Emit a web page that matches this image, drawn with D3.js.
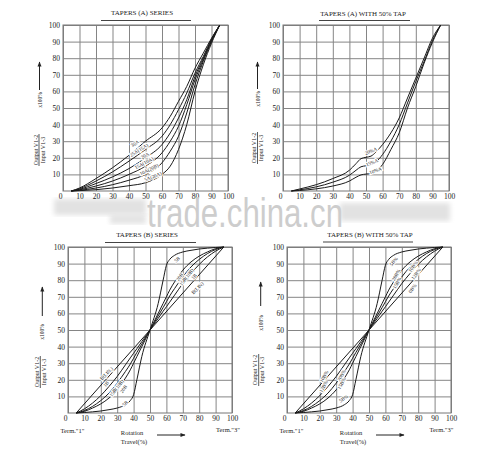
<!DOCTYPE html>
<html>
<head>
<meta charset="utf-8">
<script src="https://cdn.jsdelivr.net/npm/d3@7"></script>
<style>
  body { margin: 0; background: #fff; }
  svg text { font-family: "Liberation Serif", "DejaVu Serif", serif; fill: #222; }
</style>
</head>
<body>
<script>
// axis ticks
const xTicks = [0, 10, 20, 30, 40, 50, 60, 70, 80, 90, 100];
const yTicks = [10, 20, 30, 40, 50, 60, 70, 80, 90, 100];

// Tapers (A) series : rotation travel (%) and output (%)
const aTravel = [5, 10, 20, 30, 40, 50, 60, 65, 70, 75, 80, 85, 90, 95];
const a30 = [0, 1.8, 7.5, 14, 21.5, 30, 38, 45, 54, 63, 74, 83, 92, 100];
const a25 = [0, 1.4, 6, 11.5, 18, 25, 33, 40, 49, 59, 71, 81, 91.5, 100];
const a20 = [0, 1, 4.5, 8.5, 13.5, 20, 28, 35, 44, 55, 69, 80, 91, 100];
const a15 = [0, 0.7, 3, 6, 10, 15, 23, 30, 39, 52, 67, 79, 90.5, 100];
const a10 = [0, 0.4, 1.8, 3.8, 6.5, 10, 17, 24, 33, 47, 64, 78, 90, 100];
const a5  = [0, 0.2, 0.8, 1.8, 3.2, 5, 10, 15, 25, 40, 60, 76, 89, 100];

// Tapers (A) with 50% tap
const tapTravel = [5, 10, 20, 30, 40, 44, 47, 50, 53, 56, 60, 65, 70, 75, 80, 85, 90, 95];
const tap20 = [0, 1.2, 3.8, 7.5, 12.5, 16.5, 19.5, 20.3, 21, 23.5, 28, 35, 44, 56, 68, 80, 92, 100];
const tap15 = [0, 0.7, 2.5, 5.3, 9.5, 12.5, 14.6, 15.2, 15.8, 17.5, 22, 30, 40, 53, 66, 78, 90.5, 100];
const tap10 = [0, 0.3, 1.3, 3, 6, 8.3, 9.7, 10.2, 10.6, 12, 16, 25, 35, 50, 63, 77, 89.5, 100];

// Tapers (B) series
const bTravel = [5, 10, 15, 20, 25, 30, 35, 38, 40, 42, 45, 50, 55, 58, 60, 62, 65, 70, 75, 80, 85, 90, 95];
const b5  = [0, 0.3, 0.7, 1.2, 2, 3, 5, 7.5, 11, 20, 34, 50, 66, 80, 89, 92.5, 95, 97, 98, 98.8, 99.3, 99.7, 100];
const b20 = [0, 1, 3, 5.5, 9, 14, 21, 26, 30, 34, 40, 50, 60, 66, 70, 74, 79, 86, 91, 94.5, 97, 99, 100];
const b15 = [0, 1.5, 4, 7.5, 12, 18, 25, 29.5, 33, 36.5, 41.5, 50, 58.5, 63.5, 67, 70.5, 75, 82, 88, 92.5, 96, 98.5, 100];
const b10 = [0, 2.5, 6, 10.5, 16, 22, 29, 33.2, 36, 38.7, 43, 50, 57, 61.3, 64, 66.8, 71, 78, 84, 89.5, 94, 97.5, 100];
const linTravel = [5, 95];
const linOut = [0, 100];

const svg = d3.select("body").append("svg")
  .attr("width", 483)
  .attr("height", 451);

const defs = svg.append("defs");
defs.append("marker")
  .attr("id", "arr")
  .attr("viewBox", "0 0 10 10")
  .attr("refX", 9).attr("refY", 5)
  .attr("markerWidth", 6).attr("markerHeight", 5)
  .attr("orient", "auto")
  .append("path")
  .attr("d", "M0,1L10,5L0,9Z")
  .attr("fill", "#222");
defs.append("filter").attr("id", "blur")
  .append("feGaussianBlur").attr("stdDeviation", 2.5);

// watermark smudges (drawn first, under the charts)
svg.append("rect").attr("x", 54).attr("y", 199).attr("width", 92).attr("height", 16)
  .attr("fill", "#e2e2e2").attr("filter", "url(#blur)");
svg.append("rect").attr("x", 110).attr("y", 214).attr("width", 36).attr("height", 10)
  .attr("fill", "#e4e4e4").attr("filter", "url(#blur)");
svg.append("rect").attr("x", 340).attr("y", 203).attr("width", 110).attr("height", 18)
  .attr("fill", "#e2e2e2").attr("filter", "url(#blur)");

function zip(xs, ys) { return xs.map((v, i) => [v, ys[i]]); }

function drawPanel(p) {
  const x = d3.scaleLinear().domain([0, 100]).range([p.left, p.right]);
  const y = d3.scaleLinear().domain([0, 100]).range([p.bottom, p.top]);
  const w = p.right - p.left, h = p.bottom - p.top;
  const g = svg.append("g");

  // grid via axes
  const gx = g.append("g")
    .attr("transform", "translate(0," + p.bottom + ")")
    .call(d3.axisBottom(x).tickValues(xTicks).tickSizeInner(-h).tickSizeOuter(0).tickPadding(3));
  const gy = g.append("g")
    .attr("transform", "translate(" + p.left + ",0)")
    .call(d3.axisLeft(y).tickValues(yTicks).tickSizeInner(-w).tickSizeOuter(0).tickPadding(3));
  [gx, gy].forEach(a => {
    a.select(".domain").remove();
    a.selectAll("line").attr("stroke", "#858585").attr("stroke-width", 1);
    a.selectAll("text").style("font-size", "7.5px");
  });
  gx.selectAll(".tick").filter(d => d === 0).select("text").attr("dx", -3);

  g.append("rect")
    .attr("x", p.left).attr("y", p.top).attr("width", w).attr("height", h)
    .attr("fill", "none").attr("stroke", "#777").attr("stroke-width", 1);

  // curves
  const line = d3.line().x(d => x(d[0])).y(d => y(d[1])).curve(d3.curveMonotoneX);
  p.curves.forEach(c => {
    g.append("path").datum(zip(c[0], c[1]))
      .attr("d", line)
      .attr("fill", "none")
      .attr("stroke", "#1a1a1a")
      .attr("stroke-width", 1);
  });

  // curve labels
  p.labels.forEach(l => {
    g.append("text")
      .attr("transform", "translate(" + l[1] + "," + l[2] + ") rotate(" + l[3] + ")")
      .attr("text-anchor", "middle")
      .attr("dy", "0.35em")
      .style("font-size", "5px")
      .attr("stroke", "#fff").attr("stroke-width", 2).attr("paint-order", "stroke")
      .text(l[0]);
  });

  // title and rule
  g.append("text")
    .attr("x", p.title[1]).attr("y", p.title[2])
    .attr("text-anchor", "middle")
    .style("font-size", "7px")
    .text(p.title[0]);
  g.append("line")
    .attr("x1", p.rule[0]).attr("x2", p.rule[1])
    .attr("y1", p.rule[2]).attr("y2", p.rule[2])
    .attr("stroke", "#444").attr("stroke-width", 1.2);

  // y-axis caption: Output V1-2 / Input V1-3  x100%  with arrow
  const yl = p.ylab;
  const cap = g.append("g").attr("transform", "translate(" + yl.x + "," + yl.y + ") rotate(-90)");
  cap.append("text").attr("x", 0).attr("y", -1.5).attr("text-anchor", "middle")
    .style("font-size", "6px").text("Output V1-2");
  cap.append("line").attr("x1", -16).attr("x2", 16).attr("y1", 0).attr("y2", 0)
    .attr("stroke", "#333").attr("stroke-width", 0.8);
  cap.append("text").attr("x", 0).attr("y", 5.5).attr("text-anchor", "middle")
    .style("font-size", "6px").text("Input V1-3");
  g.append("text")
    .attr("transform", "translate(" + (yl.px + 2) + "," + yl.py + ") rotate(-90)")
    .attr("text-anchor", "middle")
    .style("font-size", "5.5px").text("x100%");
  g.append("line")
    .attr("x1", yl.px).attr("x2", yl.px).attr("y1", yl.a0).attr("y2", yl.a1)
    .attr("stroke", "#222").attr("stroke-width", 1)
    .attr("marker-end", "url(#arr)");

  // bottom captions for B panels
  if (p.bottomCap) {
    const b = p.bottomCap;
    g.append("text").attr("x", b.t1).attr("y", 433).attr("text-anchor", "middle")
      .style("font-size", "6.5px").text("Term.\"1\"");
    g.append("text").attr("x", b.t3).attr("y", 432).attr("text-anchor", "middle")
      .style("font-size", "6.5px").text("Term.\"3\"");
    g.append("text").attr("x", b.rot).attr("y", 435).attr("text-anchor", "middle")
      .style("font-size", "6.5px").text("Rotation");
    g.append("text").attr("x", b.rot + 2).attr("y", 444).attr("text-anchor", "middle")
      .style("font-size", "6.5px").text("Travel(%)");
    g.append("line").attr("x1", b.a0).attr("x2", b.a1).attr("y1", 435).attr("y2", 435)
      .attr("stroke", "#222").attr("stroke-width", 1)
      .attr("marker-end", "url(#arr)");
  }
}

drawPanel({
  left: 63, right: 228, top: 25, bottom: 191,
  curves: [[aTravel, a30], [aTravel, a25], [aTravel, a20], [aTravel, a15], [aTravel, a10], [aTravel, a5]],
  labels: [["30A", 135, 143.5, -32], ["25A(15A)", 139, 150, -32], ["20A", 145, 155.5, -30],
           ["15A(10A)", 144, 163, -28], ["10A(20B)", 149, 169.5, -26], ["5A(20A)", 153, 176.5, -22]],
  title: ["TAPERS (A) SERIES", 142, 15], rule: [101, 191, 20.5],
  ylab: { x: 39, y: 150, px: 39.5, py: 100, a0: 90, a1: 62 }
});

drawPanel({
  left: 283, right: 449, top: 25, bottom: 191,
  curves: [[tapTravel, tap20], [tapTravel, tap15], [tapTravel, tap10]],
  labels: [["20%A", 371, 151, -22], ["15%A", 372, 162.5, -22], ["10%A", 375.5, 170.5, -20]],
  title: ["TAPERS (A) WITH  50%  TAP", 363, 15.5], rule: [319, 410, 20.5],
  ylab: { x: 257.5, y: 148, px: 257.5, py: 99, a0: 89, a1: 62 }
});

drawPanel({
  left: 68, right: 232, top: 247, bottom: 413,
  curves: [[bTravel, b5], [bTravel, b20], [bTravel, b15], [bTravel, b10], [linTravel, linOut]],
  labels: [["5B", 177, 259.5, -40], ["20B", 179.5, 277, -55], ["15B(10B)", 186.5, 277, -52],
           ["1B", 194, 276.5, -50], ["B(LIN)", 197.5, 288, -45],
           ["B(LIN.)", 106.5, 373.5, -45], ["1B", 106, 384, -50], ["15B(10B)", 116.5, 388, -52],
           ["20B", 123.5, 389, -55], ["5B", 125, 403.5, -40]],
  title: ["TAPERS (B) SERIES", 147, 237], rule: [105, 196, 242.5],
  ylab: { x: 40.3, y: 372, px: 42.3, py: 332, a0: 316, a1: 287 },
  bottomCap: { t1: 72.5, t3: 228, rot: 132, a0: 157, a1: 185 }
});

drawPanel({
  left: 287, right: 451, top: 247, bottom: 413,
  curves: [[bTravel, b5], [bTravel, b20], [bTravel, b15], [bTravel, b10], [linTravel, linOut]],
  labels: [["5B%", 393.5, 261.5, -50], ["20B%", 396, 275, -60], ["15B%", 397, 283, -60],
           ["10B%", 413, 266.5, -55], ["12B%", 416, 274, -55], ["0B%", 412.5, 288.5, -55],
           ["10B%", 324, 376.5, -60], ["12B%", 323.5, 386.5, -60], ["20B%", 341.5, 375.5, -60],
           ["15B%", 341.5, 383.5, -60], ["5B%", 343.5, 398.5, -35]],
  title: ["TAPERS (B) WITH  50%  TAP", 370, 237], rule: [323, 413, 242],
  ylab: { x: 258.7, y: 370, px: 260.7, py: 323, a0: 306, a1: 282 },
  bottomCap: { t1: 291.5, t3: 441.5, rot: 351, a0: 376, a1: 404 }
});

// watermark text
svg.append("text")
  .attr("x", 147).attr("y", 227)
  .attr("textLength", 196).attr("lengthAdjust", "spacingAndGlyphs")
  .style("font-family", "'Liberation Sans', Arial, sans-serif")
  .style("font-size", "40px")
  .style("fill", "#cdcdcd")
  .text("trade.china.cn");
</script>
</body>
</html>
